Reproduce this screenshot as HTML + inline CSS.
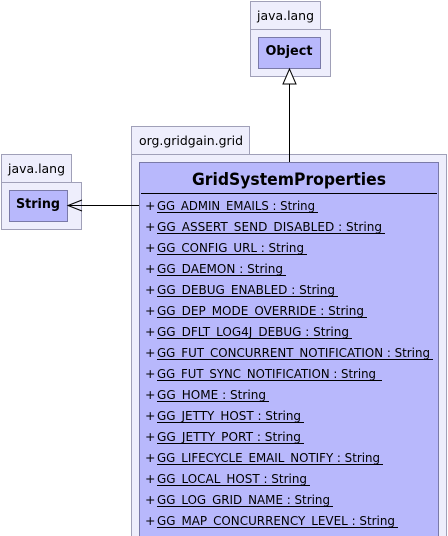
<!DOCTYPE html>
<html><head><meta charset="utf-8"><style>
html,body{margin:0;padding:0;background:#fff;width:448px;height:536px;overflow:hidden}
svg text{font-family:"DejaVu Sans","Liberation Sans",sans-serif;fill:#000}
</style></head><body>
<svg width="448" height="536" viewBox="0 0 448 536" xmlns="http://www.w3.org/2000/svg">
<g stroke="#a0a0b8" stroke-width="1" fill="#eeeefc">
<rect x="250.5" y="1.5" width="70" height="28"/>
<rect x="250.5" y="29.5" width="80" height="47"/>
<rect x="1.5" y="154.5" width="70" height="28"/>
<rect x="1.5" y="182.5" width="80" height="47"/>
<rect x="131.5" y="126.5" width="118" height="28"/>
<rect x="131.5" y="154.5" width="315" height="390"/>
</g>
<g stroke="#7a7aa8" stroke-width="1" fill="#b8b8fc">
<rect x="258.5" y="37.5" width="62" height="31"/>
<rect x="9.5" y="190.5" width="58" height="31"/>
<rect x="139.5" y="162.5" width="299" height="380"/>
</g>
<text x="257" y="20" font-size="12.5" textLength="57" lengthAdjust="spacingAndGlyphs">java.lang</text>
<text x="8" y="173" font-size="12.5" textLength="57" lengthAdjust="spacingAndGlyphs">java.lang</text>
<text x="139" y="145" font-size="12.5" textLength="104" lengthAdjust="spacingAndGlyphs">org.gridgain.grid</text>
<text x="289" y="55" font-size="13" font-weight="bold" text-anchor="middle" textLength="47" lengthAdjust="spacingAndGlyphs">Object</text>
<text x="38" y="208" font-size="13" font-weight="bold" text-anchor="middle" textLength="44" lengthAdjust="spacingAndGlyphs">String</text>
<text x="289" y="185" font-size="17" font-weight="bold" text-anchor="middle" textLength="194" lengthAdjust="spacingAndGlyphs">GridSystemProperties</text>
<line x1="141" y1="193.5" x2="437" y2="193.5" stroke="#000"/>
<line x1="289.5" y1="162" x2="289.5" y2="84" stroke="#000"/>
<polygon points="289.5,69 283,84 296,84" fill="#fff" stroke="#000"/>
<line x1="139" y1="205.5" x2="68" y2="205.5" stroke="#000"/>
<polyline points="82,200 68,205.5 82,211" fill="none" stroke="#000"/>
<g font-size="12.5">
<text x="145" y="210">+</text><text x="157" y="210" textLength="158" lengthAdjust="spacingAndGlyphs">GG_ADMIN_EMAILS : String</text><line x1="157" y1="212.5" x2="318" y2="212.5" stroke="#000"/>
<text x="145" y="231">+</text><text x="157" y="231" textLength="225" lengthAdjust="spacingAndGlyphs">GG_ASSERT_SEND_DISABLED : String</text><line x1="157" y1="233.5" x2="385" y2="233.5" stroke="#000"/>
<text x="145" y="252">+</text><text x="157" y="252" textLength="147" lengthAdjust="spacingAndGlyphs">GG_CONFIG_URL : String</text><line x1="157" y1="254.5" x2="307" y2="254.5" stroke="#000"/>
<text x="145" y="273">+</text><text x="157" y="273" textLength="126" lengthAdjust="spacingAndGlyphs">GG_DAEMON : String</text><line x1="157" y1="275.5" x2="286" y2="275.5" stroke="#000"/>
<text x="145" y="294">+</text><text x="157" y="294" textLength="178" lengthAdjust="spacingAndGlyphs">GG_DEBUG_ENABLED : String</text><line x1="157" y1="296.5" x2="338" y2="296.5" stroke="#000"/>
<text x="145" y="315">+</text><text x="157" y="315" textLength="207" lengthAdjust="spacingAndGlyphs">GG_DEP_MODE_OVERRIDE : String</text><line x1="157" y1="317.5" x2="367" y2="317.5" stroke="#000"/>
<text x="145" y="336">+</text><text x="157" y="336" textLength="192" lengthAdjust="spacingAndGlyphs">GG_DFLT_LOG4J_DEBUG : String</text><line x1="157" y1="338.5" x2="352" y2="338.5" stroke="#000"/>
<text x="145" y="357">+</text><text x="157" y="357" textLength="273" lengthAdjust="spacingAndGlyphs">GG_FUT_CONCURRENT_NOTIFICATION : String</text><line x1="157" y1="359.5" x2="433" y2="359.5" stroke="#000"/>
<text x="145" y="378">+</text><text x="157" y="378" textLength="219" lengthAdjust="spacingAndGlyphs">GG_FUT_SYNC_NOTIFICATION : String</text><line x1="157" y1="380.5" x2="382" y2="380.5" stroke="#000"/>
<text x="145" y="399">+</text><text x="157" y="399" textLength="109" lengthAdjust="spacingAndGlyphs">GG_HOME : String</text><line x1="157" y1="401.5" x2="269" y2="401.5" stroke="#000"/>
<text x="145" y="420">+</text><text x="157" y="420" textLength="144" lengthAdjust="spacingAndGlyphs">GG_JETTY_HOST : String</text><line x1="157" y1="422.5" x2="304" y2="422.5" stroke="#000"/>
<text x="145" y="441">+</text><text x="157" y="441" textLength="144" lengthAdjust="spacingAndGlyphs">GG_JETTY_PORT : String</text><line x1="157" y1="443.5" x2="304" y2="443.5" stroke="#000"/>
<text x="145" y="462">+</text><text x="157" y="462" textLength="223" lengthAdjust="spacingAndGlyphs">GG_LIFECYCLE_EMAIL_NOTIFY : String</text><line x1="157" y1="464.5" x2="383" y2="464.5" stroke="#000"/>
<text x="145" y="483">+</text><text x="157" y="483" textLength="150" lengthAdjust="spacingAndGlyphs">GG_LOCAL_HOST : String</text><line x1="157" y1="485.5" x2="310" y2="485.5" stroke="#000"/>
<text x="145" y="504">+</text><text x="157" y="504" textLength="173" lengthAdjust="spacingAndGlyphs">GG_LOG_GRID_NAME : String</text><line x1="157" y1="506.5" x2="333" y2="506.5" stroke="#000"/>
<text x="145" y="525">+</text><text x="157" y="525" textLength="238" lengthAdjust="spacingAndGlyphs">GG_MAP_CONCURRENCY_LEVEL : String</text><line x1="157" y1="527.5" x2="398" y2="527.5" stroke="#000"/>
</g>
</svg>
</body></html>
